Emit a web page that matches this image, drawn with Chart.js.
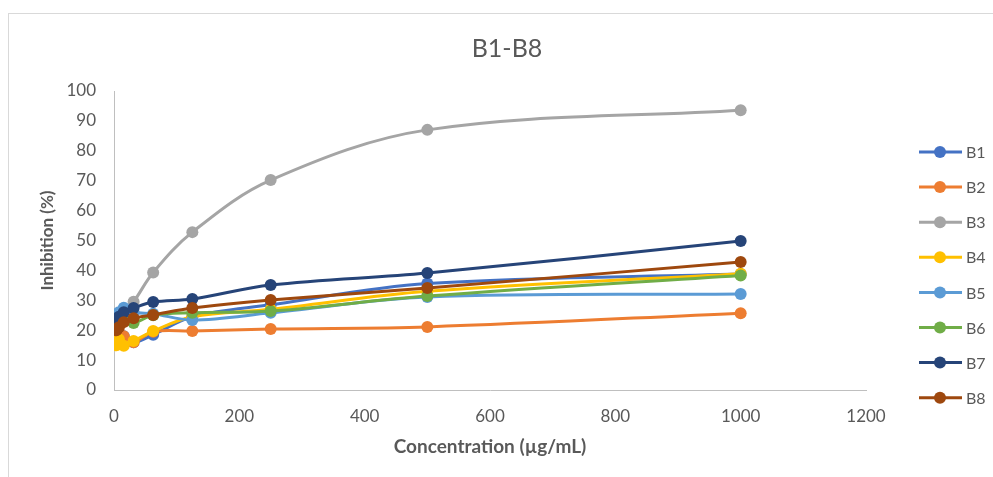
<!DOCTYPE html>
<html>
<head>
<meta charset="utf-8">
<script src="https://cdn.jsdelivr.net/npm/chart.js@4/dist/chart.umd.min.js"></script>
<style>
  html, body { margin: 0; padding: 0; background: #fff; }
  #wrap { width: 993px; height: 477px; position: relative; }
</style>
</head>
<body>
<div id="wrap"><canvas id="c" width="993" height="477"></canvas></div>
<script>
/* B1–B8 inhibition vs concentration (Excel-style smoothed scatter) */

const concentrations = [3.9, 7.8, 15.6, 31.25, 62.5, 125, 250, 500, 1000];
const seriesNames = ["B1", "B2", "B3", "B4", "B5", "B6", "B7", "B8"];

const b1 = [19, 18.5, 18, 16, 18.5, 24.5, 28.5, 35.6, 38.8];
const b2 = [18, 19, 18, 16, 19.5, 19.7, 20.4, 21.1, 25.7];
const b3 = [21, 23, 26, 29.5, 39.3, 52.8, 70.2, 87, 93.6];
const b4 = [15, 17, 14.8, 16.4, 19.7, 24.5, 27, 33, 38.9];
const b5 = [21, 26, 27.5, 26, 25.5, 23.4, 25.8, 31.1, 32.1];
const b6 = [21, 22, 23, 22.4, 25, 25.8, 26.4, 31.4, 38.3];
const b7 = [22.7, 24.5, 26, 27.4, 29.4, 30.4, 35.1, 39.1, 49.8];
const b8 = [20, 21, 22.7, 24, 25.1, 27.4, 30.1, 34.1, 42.8];

const xTicks = [0, 200, 400, 600, 800, 1000, 1200];
const yTicks = [0, 10, 20, 30, 40, 50, 60, 70, 80, 90, 100];

const colors = ["#4472C4", "#ED7D31", "#A5A5A5", "#FFC000", "#5B9BD5", "#70AD47", "#264478", "#9E480E"];
const FONT = "Lato, 'Open Sans', 'Liberation Sans', sans-serif";
const INK = "#595959";

const allSeries = [b1, b2, b3, b4, b5, b6, b7, b8];

const datasets = allSeries.map((vals, i) => ({
  label: seriesNames[i],
  data: vals.map((v, j) => ({ x: concentrations[j], y: v })),
  borderColor: colors[i],
  backgroundColor: colors[i],
  borderWidth: 3,
  pointRadius: 6,
  pointHoverRadius: 6,
  pointBorderWidth: 0,
  tension: 0.35,
  order: allSeries.length - i,   // later series on top, like Excel
}));

/* frame around the whole chart + centred title */
const frame = {
  id: "frame",
  beforeDraw(chart) {
    const ctx = chart.ctx;
    ctx.save();
    ctx.strokeStyle = "#d9d9d9";
    ctx.lineWidth = 1;
    ctx.strokeRect(8.5, 13.5, 1100, 500);
    ctx.fillStyle = INK;
    ctx.font = "25px " + FONT;
    ctx.textAlign = "center";
    ctx.textBaseline = "middle";
    ctx.fillText("B1-B8", 507, 49);
    ctx.restore();
  },
};

/* right-hand legend: line + dot + label, one row per series */
const sideLegend = {
  id: "sideLegend",
  afterDraw(chart) {
    const ctx = chart.ctx;
    const x0 = 919, top = 152, step = 35.1;
    ctx.save();
    chart.data.datasets.forEach((ds, i) => {
      const y = top + i * step;
      ctx.strokeStyle = ds.borderColor;
      ctx.lineWidth = 3;
      ctx.beginPath();
      ctx.moveTo(x0, y);
      ctx.lineTo(x0 + 43, y);
      ctx.stroke();
      ctx.fillStyle = ds.backgroundColor;
      ctx.beginPath();
      ctx.arc(x0 + 21, y, 6, 0, Math.PI * 2);
      ctx.fill();
      ctx.fillStyle = INK;
      ctx.font = "16px " + FONT;
      ctx.textBaseline = "middle";
      ctx.fillText(ds.label, x0 + 47, y + 1);
    });
    ctx.restore();
  },
};

new Chart(document.getElementById("c"), {
  type: "line",
  data: { datasets },
  options: {
    responsive: false,
    animation: false,
    layout: { padding: { left: 8, right: 127, top: 91, bottom: 10 } },
    plugins: {
      legend: { display: false },
      tooltip: { enabled: false },
      title: { display: false },
    },
    scales: {
      x: {
        type: "linear",
        min: 0,
        max: 1200,
        afterBuildTicks: (s) => { s.ticks = xTicks.map((v) => ({ value: v })); },
        afterFit: (s) => { s.height = 77; },
        grid: { display: false, drawTicks: false },
        border: { display: true, color: "#bfbfbf", width: 1 },
        ticks: { color: INK, font: { family: FONT, size: 17 }, padding: 16, callback: (v) => String(v) },
        title: {
          display: true,
          text: "Concentration (µg/mL)",
          color: INK,
          font: { family: FONT, size: 19, weight: "bold" },
          padding: { top: 0, bottom: 9 },
        },
      },
      y: {
        min: 0,
        max: 100,
        afterBuildTicks: (s) => { s.ticks = yTicks.map((v) => ({ value: v })); },
        afterFit: (s) => { s.width = 106; },
        grid: { display: false, drawTicks: false },
        border: { display: true, color: "#bfbfbf", width: 1 },
        ticks: { color: INK, font: { family: FONT, size: 17 }, padding: 18, callback: (v) => String(v) },
        title: {
          display: true,
          text: "Inhibition (%)",
          color: INK,
          font: { family: FONT, size: 17, weight: "bold" },
          padding: { top: 29, bottom: 0 },
        },
      },
    },
  },
  plugins: [frame, sideLegend],
});
</script>
</body>
</html>
